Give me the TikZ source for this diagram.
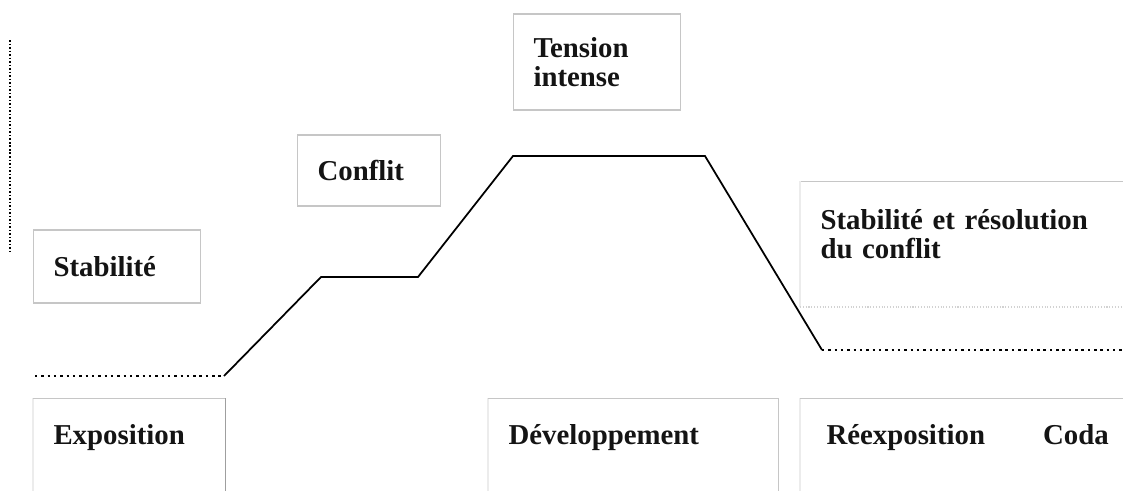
\documentclass[tikz,border=0pt]{standalone}
\usepackage{fontspec}
\setmainfont{Liberation Serif}
\usetikzlibrary{positioning}

\begin{document}
\begin{tikzpicture}[every node/.style={font=\fontsize{16.4}{16.4}\selectfont\bfseries, text=black!92},
    box/.style={draw=gray!45, line width=0.6pt, inner xsep=0.4cm, align=left, anchor=west},
    frame/.style={draw=gray!45, line width=0.6pt},
    faint/.style={draw=gray!15, line width=0.6pt},
    curve/.style={line width=1pt},
    flat/.style={line width=1.1pt, dash pattern=on 1.4pt off 2.2pt}]

    \useasboundingbox (0,0) rectangle (22.46,9.8);
    \clip (0,0) rectangle (22.46,9.8);

    % Upper boxes
    \node at (0.66,4.47) (stab) [box, minimum height=1.46cm, text width=2.54cm] {Stabilité};
    \node at (5.94,6.39) (conf) [box, minimum height=1.42cm, text width=2.06cm] {Conflit};
    \node at (10.26,8.56) (tens) [box, minimum height=1.92cm, text width=2.54cm] {Tension\\intense};
    \node at (16.0,5.12) (resol) [box, draw=none, minimum height=2.08cm, text width=6.0cm] {Stabilité et résolution\\du conflit};

    % Lower boxes
    \node at (0.66,1.05) (expo) [box, draw=none, minimum height=1.54cm, text width=3.02cm] {Exposition};
    \node at (9.76,1.05) (dev) [box, draw=none, minimum height=1.54cm, text width=4.98cm] {Développement};
    \node at (16.0,1.05) (reex) [box, draw=none, inner xsep=0.52cm, minimum height=1.54cm, text width=6.0cm] {Réexposition\hspace{1.16cm}Coda};

    % Frames
    \coordinate (resolbase) at (16.0,3.66);
    \draw[frame] (resol.north west) -- (resol.north east);
    \draw[faint] (resol.north west) -- (resolbase);
    \draw[frame, draw=gray!35, densely dotted] (resolbase) -- (22.46,3.66);
    \draw[faint] (expo.north west) -- ([yshift=-5mm]expo.south west);
    \draw[frame] (expo.north west) -- (expo.north east);
    \draw[frame, draw=gray!75] (expo.north east) -- ([yshift=-5mm]expo.south east);
    \draw[faint] (dev.north west) -- ([yshift=-5mm]dev.south west);
    \draw[frame] (dev.north west) -- (dev.north east) -- ([yshift=-5mm]dev.south east);
    \draw[faint] (reex.north west) -- ([yshift=-5mm]reex.south west);
    \draw[frame] (reex.north west) -- (reex.north east);

    % Tension curve
    \coordinate (c0) at (0.70,2.28);
    \coordinate (c1) at (4.48,2.28);
    \coordinate (c2) at (6.42,4.26);
    \coordinate (c3) at (8.36,4.26);
    \coordinate (c4) at (10.26,6.68);
    \coordinate (c5) at (14.10,6.68);
    \coordinate (c6) at (16.44,2.80);
    \coordinate (c7) at (22.46,2.80);
    \draw[flat] (c0) -- (c1);
    \draw[curve] (c1) -- (c2) -- (c3) -- (c4) -- (c5) -- (c6);
    \draw[flat] (c6) -- (c7);

    % Dotted margin line
    \coordinate (m1) at (0.2,9.0);
    \coordinate (m2) at (0.2,4.76);
    \draw[line width=0.9pt, dash pattern=on 0.9pt off 1.1pt] (m1) -- (m2);

\end{tikzpicture}
\end{document}
